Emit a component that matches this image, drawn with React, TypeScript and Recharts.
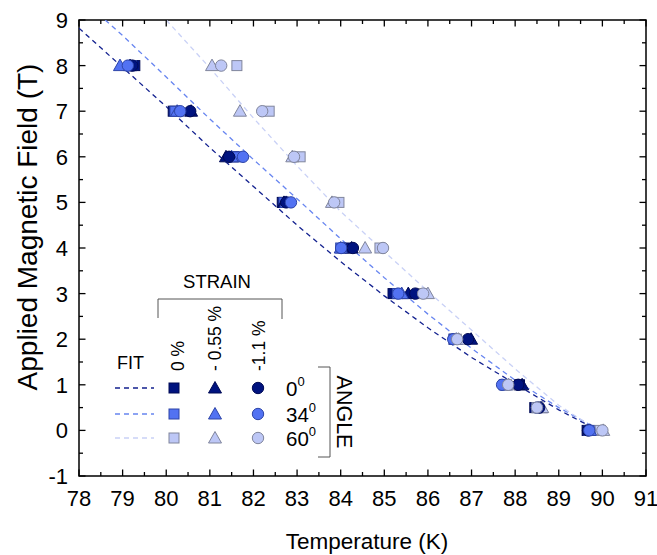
import React from 'react';
import { ScatterChart, Scatter, XAxis, YAxis, ReferenceArea } from 'recharts';

// ---- data ----
const fields = [8, 7, 6, 5, 4, 3, 2, 1, 0.5, 0];

const tSq0 = [79.28, 80.16, 81.55, 82.66, 84.1, 85.2, 86.6, 88.1, 88.45, 89.65];
const tSq34 = [79.2, 80.2, 81.6, 82.7, 84.0, 85.3, 86.6, 87.75, 88.5, 89.7];
const tSq60 = [81.62, 82.36, 83.07, 83.96, 84.9, 85.85, 86.65, 87.8, 88.5, 89.95];
const tTri0 = [79.17, 80.57, 81.37, 82.7, 84.25, 85.55, 86.99, 88.16, 88.6, 89.7];
const tTri34 = [78.94, 80.25, 81.5, 82.75, 84.0, 85.4, 86.65, 87.8, 88.6, 89.72];
const tTri60 = [81.05, 81.69, 82.89, 83.8, 84.56, 86.0, 86.7, 87.85, 88.62, 90.02];
const tCir0 = [79.22, 80.55, 81.44, 82.75, 84.28, 85.71, 86.92, 88.07, 88.55, 89.67];
const tCir34 = [79.12, 80.32, 81.76, 82.86, 84.01, 85.32, 86.58, 87.7, 88.5, 89.7];
const tCir60 = [81.26, 82.2, 82.93, 83.85, 84.97, 85.89, 86.67, 87.84, 88.5, 90.0];

const fitT0 = [78, 79, 80, 81, 82, 83, 84, 85, 86, 87, 88, 89, 89.9];
const fitB0 = [8.82, 7.96, 7.1, 6.2, 5.35, 4.5, 3.7, 2.95, 2.25, 1.6, 1.02, 0.45, 0];
const fitT34 = [78.6, 79, 80, 81, 82, 83, 84, 85, 86, 87, 88, 89, 89.95];
const fitB34 = [9.0, 8.66, 7.75, 6.83, 5.94, 5.08, 4.2, 3.35, 2.55, 1.8, 1.1, 0.5, 0];
const fitT60 = [80.0, 81, 82, 83, 84, 85, 86, 87, 88, 89, 89.9];
const fitB60 = [9.0, 7.95, 6.85, 5.8, 4.8, 3.92, 3.05, 2.2, 1.35, 0.55, 0];

const xTicks = [78, 78.5, 79, 79.5, 80, 80.5, 81, 81.5, 82, 82.5, 83, 83.5, 84, 84.5, 85, 85.5, 86, 86.5, 87, 87.5, 88, 88.5, 89, 89.5, 90, 90.5, 91];
const yTicks = [-1, -0.5, 0, 0.5, 1, 1.5, 2, 2.5, 3, 3.5, 4, 4.5, 5, 5.5, 6, 6.5, 7, 7.5, 8, 8.5, 9];

const strainLabels = ['0 %', '- 0.55 %', '-1.1 %'];
const angleLabels = ['0', '34', '60'];

// ---- styles ----
const FONT = '"Liberation Sans", Arial, sans-serif';
const W = 657;
const H = 555;
const M_TOP = 20;
const M_RIGHT = 11;
const Y_W = 79;
const X_H = 79;
const PLOT_H = H - M_TOP - X_H;
const PLOT_W = W - M_RIGHT - Y_W;

const fill = ['#00137f', '#5272f2', '#bdc7f6'];
const stroke = ['#000a55', '#2e45a8', '#80859c'];
const lineCol = ['#13218f', '#6785f0', '#c9d1f6'];

const mk = (ts: number[]) => ts.map((t, i) => ({ x: t, y: fields[i] }));
const mkFit = (ts: number[], bs: number[]) => ts.map((t, i) => ({ x: t, y: bs[i] }));

const SquareShape = (k: number) => (p: any) => (
  <rect x={p.cx - 5} y={p.cy - 5} width={10} height={10} fill={fill[k]} stroke={stroke[k]} strokeWidth={1} />
);
const TriShape = (k: number) => (p: any) => (
  <polygon
    points={`${p.cx},${p.cy - 6.5} ${p.cx - 6.5},${p.cy + 5} ${p.cx + 6.5},${p.cy + 5}`}
    fill={fill[k]}
    stroke={stroke[k]}
    strokeWidth={1}
  />
);
const CircShape = (k: number) => (p: any) => (
  <circle cx={p.cx} cy={p.cy} r={5.7} fill={fill[k]} stroke={stroke[k]} strokeWidth={1} />
);
const NoShape = () => <g />;

const isMajor = (v: number) => Math.abs(v - Math.round(v)) < 1e-6;

const XTick = (props: any) => {
  const { x, y, payload } = props;
  const v = payload.value;
  const len = isMajor(v) ? 6.5 : 4;
  const top = y - PLOT_H;
  return (
    <g>
      <line x1={x} x2={x} y1={y} y2={y - len} stroke="#000" strokeWidth={1.3} />
      <line x1={x} x2={x} y1={top} y2={top + len} stroke="#000" strokeWidth={1.3} />
      {isMajor(v) && (
        <text x={x} y={y + 30} textAnchor="middle" fontSize={22} fontFamily={FONT} fill="#000">
          {v}
        </text>
      )}
    </g>
  );
};

const YTick = (props: any) => {
  const { x, y, payload } = props;
  const v = payload.value;
  const len = isMajor(v) ? 6.5 : 4;
  const right = x + PLOT_W;
  return (
    <g>
      <line x1={x} x2={x + len} y1={y} y2={y} stroke="#000" strokeWidth={1.3} />
      <line x1={right} x2={right - len} y1={y} y2={y} stroke="#000" strokeWidth={1.3} />
      {isMajor(v) && (
        <text x={x - 11} y={y + 8} textAnchor="end" fontSize={22} fontFamily={FONT} fill="#000">
          {v}
        </text>
      )}
    </g>
  );
};

const dash = '5 4';

const Legend = () => {
  const rows = [388, 414, 438];
  const cols = [174, 215, 258];
  const headerX = [183.5, 221, 265];
  return (
    <g fontFamily={FONT} fill="#000">
      <text x={217} y={288} textAnchor="middle" fontSize={18.5}>STRAIN</text>
      <path d="M158 318 V299 H282 V319" fill="none" stroke="#555" strokeWidth={1} />
      {strainLabels.map((s, i) => (
        <text key={s} x={headerX[i]} y={371} fontSize={17.5} transform={`rotate(-90 ${headerX[i]} 371)`}>
          {s}
        </text>
      ))}
      <text x={117} y={369} fontSize={18}>FIT</text>
      {rows.map((ry, k) => (
        <g key={k}>
          <line x1={115} x2={154} y1={ry} y2={ry} stroke={lineCol[k]} strokeWidth={1.3} strokeDasharray={dash} />
          {SquareShape(k)({ cx: cols[0], cy: ry })}
          {TriShape(k)({ cx: cols[1], cy: ry })}
          {CircShape(k)({ cx: cols[2], cy: ry })}
          <text x={286} y={ry + 7.5} fontSize={20.5}>
            {angleLabels[k]}
            <tspan fontSize={13} dy={-10}>0</tspan>
          </text>
        </g>
      ))}
      <path d="M318 367 H330 V457 H318" fill="none" stroke="#555" strokeWidth={1} />
      <text x={337} y={412} fontSize={21.5} textAnchor="middle" transform="rotate(90 337 412)">ANGLE</text>
    </g>
  );
};

export default function App() {
  return (
    <div style={{ position: 'absolute', left: 0, top: 0, width: W, height: H, background: '#fff' }}>
      <ScatterChart width={W} height={H} margin={{ top: M_TOP, right: M_RIGHT, left: 0, bottom: 0 }}>
        <XAxis
          type="number"
          dataKey="x"
          domain={[78, 91]}
          ticks={xTicks}
          interval={0}
          allowDataOverflow
          axisLine={false}
          tickLine={false}
          tickSize={0}
          tickMargin={0}
          height={X_H}
          tick={<XTick />}
        />
        <YAxis
          type="number"
          dataKey="y"
          domain={[-1, 9]}
          ticks={yTicks}
          interval={0}
          allowDataOverflow
          axisLine={false}
          tickLine={false}
          tickSize={0}
          tickMargin={0}
          width={Y_W}
          tick={<YTick />}
        />
        <ReferenceArea x1={78} x2={91} y1={-1} y2={9} fill="none" stroke="#000" strokeWidth={1.5} fillOpacity={0} />
        <Scatter data={mkFit(fitT0, fitB0)} line={{ stroke: lineCol[0], strokeWidth: 1.3, strokeDasharray: dash }} lineType="joint" shape={NoShape} isAnimationActive={false} />
        <Scatter data={mkFit(fitT34, fitB34)} line={{ stroke: lineCol[1], strokeWidth: 1.3, strokeDasharray: dash }} lineType="joint" shape={NoShape} isAnimationActive={false} />
        <Scatter data={mkFit(fitT60, fitB60)} line={{ stroke: lineCol[2], strokeWidth: 1.3, strokeDasharray: dash }} lineType="joint" shape={NoShape} isAnimationActive={false} />
        <Scatter data={mk(tSq0)} shape={SquareShape(0)} isAnimationActive={false} />
        <Scatter data={mk(tSq34)} shape={SquareShape(1)} isAnimationActive={false} />
        <Scatter data={mk(tSq60)} shape={SquareShape(2)} isAnimationActive={false} />
        <Scatter data={mk(tTri0)} shape={TriShape(0)} isAnimationActive={false} />
        <Scatter data={mk(tTri34)} shape={TriShape(1)} isAnimationActive={false} />
        <Scatter data={mk(tTri60)} shape={TriShape(2)} isAnimationActive={false} />
        <Scatter data={mk(tCir0)} shape={CircShape(0)} isAnimationActive={false} />
        <Scatter data={mk(tCir34)} shape={CircShape(1)} isAnimationActive={false} />
        <Scatter data={mk(tCir60)} shape={CircShape(2)} isAnimationActive={false} />
      </ScatterChart>
      <svg width={W} height={H} style={{ position: 'absolute', left: 0, top: 0, pointerEvents: 'none' }}>
        <Legend />
        <text x={367} y={549} textAnchor="middle" fontSize={22.5} fontFamily={FONT}>Temperature (K)</text>
        <text x={37} y={227} textAnchor="middle" fontSize={28} fontFamily={FONT} transform="rotate(-90 37 227)">
          Applied Magnetic Field (T)
        </text>
      </svg>
    </div>
  );
}
